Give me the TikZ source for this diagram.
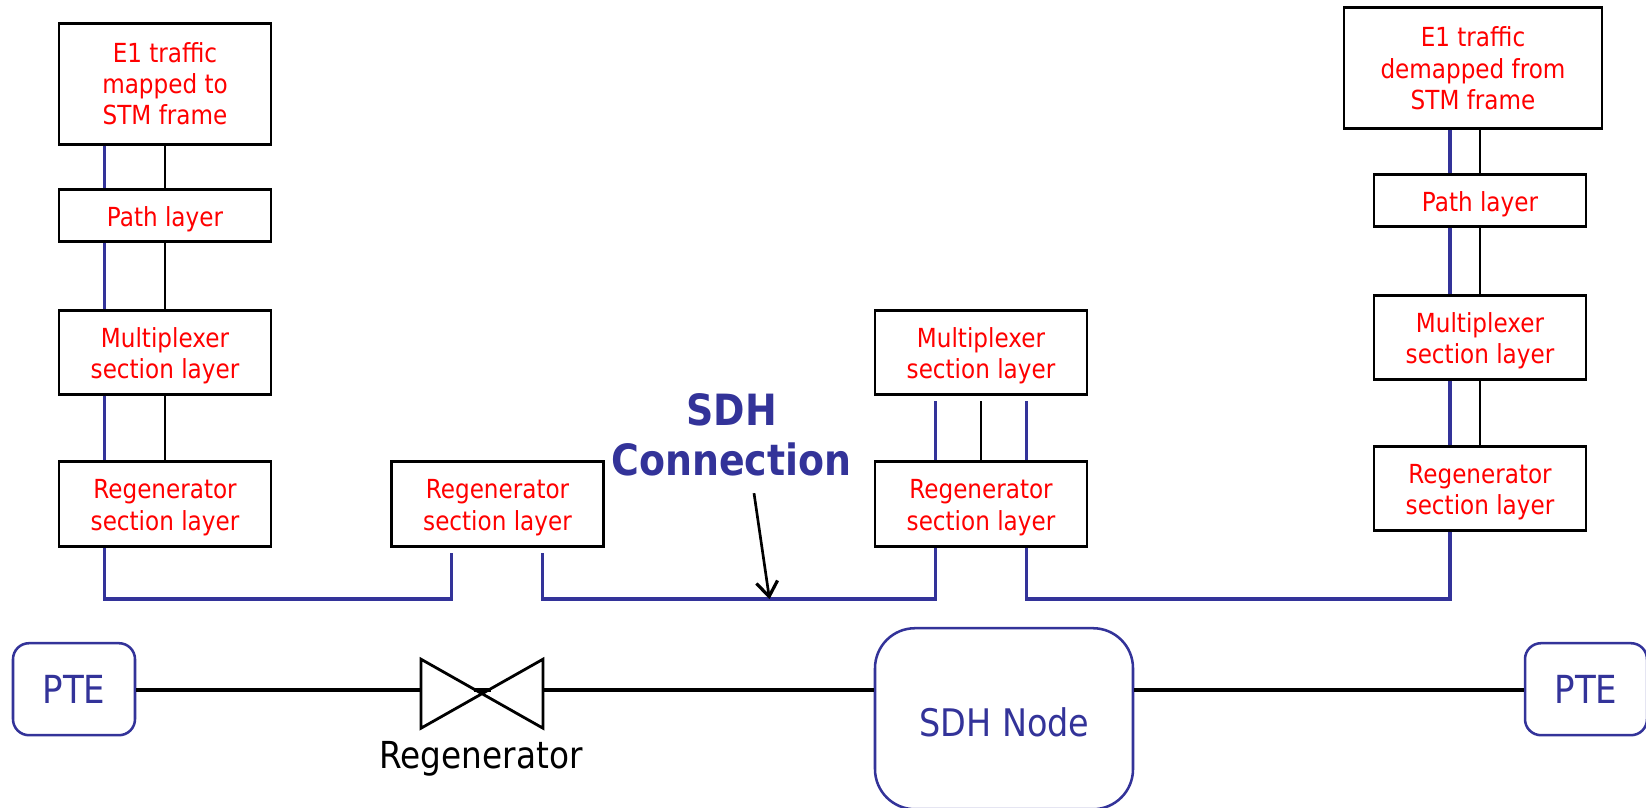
\documentclass[tikz,border=0pt]{standalone}
\usepackage{fontspec}
\setmainfont[FakeStretch=0.88]{DejaVu Sans}
\usetikzlibrary{arrows.meta}
\definecolor{sdhblue}{HTML}{333399}
\tikzset{
  layer/.style={draw=black,line width=2.2pt,text=red,align=center,inner sep=0pt,font=\fontsize{19.7pt}{23.6pt}\selectfont},
  ptebox/.style={draw=sdhblue,line width=1.9pt,rounded corners=12pt,text=sdhblue,inner sep=0pt,font=\fontsize{29pt}{34pt}\selectfont},
  blueline/.style={draw=sdhblue,line width=2.8pt,line join=miter},
  thinline/.style={draw=black,line width=2.1pt},
  mainline/.style={draw=black,line width=3pt},
  valve/.style={draw=black,line width=2.1pt,line join=miter},
}
\newcommand{\layerbox}[6]{\node[layer,minimum width=#4*0.75pt,minimum height=#5*0.75pt] (#1) at (#2,#3) {\rule{0pt}{20.5pt}#6};}
\newcommand{\tallbox}[6]{\node[layer,minimum width=#4*0.75pt,minimum height=#5*0.75pt] (#1) at (#2,#3) {#6};}
\begin{document}
\begin{tikzpicture}[x=0.75pt,y=-0.75pt]
\useasboundingbox (0,0) rectangle (1646,807);
\begin{scope}[yshift=-0.9pt]
% left column
\tallbox{ea}{165}{82.5}{212}{121}{E1 traffic\\mapped to\\STM frame}
\layerbox{pa}{165}{214}{212}{52}{Path layer}
\layerbox{ma}{165}{351}{212}{84}{Multiplexer\\section layer}
\layerbox{ra}{165}{502.5}{212}{85}{Regenerator\\section layer}
% second
\layerbox{rb}{497.5}{502.5}{212}{85}{Regenerator\\section layer}
% middle
\layerbox{mc}{981}{351}{212}{84}{Multiplexer\\section layer}
\layerbox{rc}{981}{502.5}{212}{85}{Regenerator\\section layer}
% right column
\tallbox{ed}{1473}{67.2}{258}{121}{E1 traffic\\demapped from\\STM frame}
\layerbox{pd}{1480}{199}{212}{52}{Path layer}
\layerbox{md}{1480}{336}{212}{84}{Multiplexer\\section layer}
\layerbox{rd}{1480}{487}{212}{84}{Regenerator\\section layer}
% reference columns and free ends
\coordinate (xa) at (104.5,0);
\coordinate (xd) at (1450,0);
\coordinate (rise) at (0,597.5);
\coordinate (stubtop) at (0,552);
\coordinate (midtop) at (0,400);
\coordinate (x1) at (451.5,0);
\coordinate (x2) at (542.5,0);
\coordinate (x3) at (935.5,0);
\coordinate (x4) at (1026.5,0);
% left risers
\foreach \u/\l in {ea/pa,pa/ma,ma/ra}{
  \draw[blueline] (\u.south -| xa) -- (\l.north -| xa);
  \draw[thinline] (\u.south) -- (\l.north);
}
% right risers
\draw[blueline] (ed.south -| xd) -- (pd.north -| xd);
\draw[thinline] (ed.south -| pd) -- (pd.north);
\foreach \u/\l in {pd/md,md/rd}{
  \draw[blueline] (\u.south -| xd) -- (\l.north -| xd);
  \draw[thinline] (\u.south) -- (\l.north);
}
% middle stubs
\draw[blueline] (midtop -| x3) -- (rc.north -| x3);
\draw[thinline] (midtop -| rc) -- (rc.north);
\draw[blueline] (midtop -| x4) -- (rc.north -| x4);
% SDH connection runs
\draw[blueline] (ra.south -| xa) -- (rise -| xa) -- (rise -| x1) -- (stubtop -| x1);
\draw[blueline] (stubtop -| x2) -- (rise -| x2) -- (rise -| x3) -- (rc.south -| x3);
\draw[blueline] (rc.south -| x4) -- (rise -| x4) -- (rise -| xd) -- (rd.south -| xd);
% bottom row
\node[ptebox,minimum width=122*0.75pt,minimum height=92*0.75pt] (ptel) at (74,688) {PTE};
\node[ptebox,minimum width=122*0.75pt,minimum height=92*0.75pt] (pter) at (1586,688) {PTE};
\node[ptebox,rounded corners=30pt,minimum width=258*0.75pt,minimum height=181*0.75pt] (node) at (1004,717.5) {};
\node[text=sdhblue,inner sep=0pt,font=\fontsize{28.5pt}{34pt}\selectfont] (nodetext) at (1004.5,721) {SDH Node};
% regenerator symbol
\coordinate (vl) at (421,692);
\coordinate (vr) at (543,692);
\coordinate (vmain) at (0,688.5);
\draw[valve] (421,658) -- (543,727) -- (543,658) -- (421,727) -- cycle;
\coordinate (cl) at (474,688.5);
\coordinate (cr) at (491,688.5);
\draw[mainline] (ptel.east |- vmain) -- (vl |- vmain);
\draw[mainline] (cl) -- (cr);
\draw[mainline] (vr |- vmain) -- (node.west |- vmain);
\draw[mainline] (node.east |- vmain) -- (pter.west |- vmain);
\node[inner sep=0pt,text=black,font=\fontsize{27.9pt}{32pt}\selectfont] (reglabel) at (481,758) {Regenerator};
% heading and arrow
\node[inner sep=0pt,text=sdhblue,align=center,font=\fontsize{32.3pt}{37.8pt}\selectfont\bfseries] (head) at (731.5,433.5) {SDH\\Connection};
\coordinate (arrowstart) at (754,492);
\coordinate (arrowend) at (769.5,598);
\draw[-{Straight Barb[length=11pt,width=16pt,line width=2.4pt]},line width=2pt,draw=black] (arrowstart) -- (arrowend);
\end{scope}
\end{tikzpicture}
\end{document}
